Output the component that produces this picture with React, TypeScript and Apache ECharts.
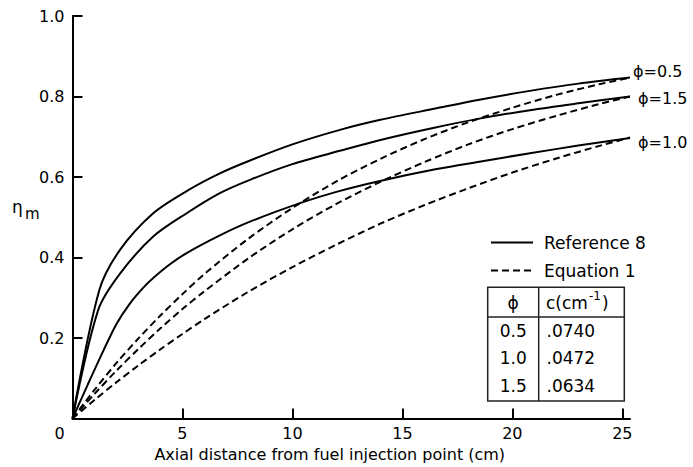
import React, { useEffect, useRef } from "react";
import * as echarts from "echarts";

// ---- data ----
const xTicks = [0, 5, 10, 15, 20, 25];
const yTicks = [0.2, 0.4, 0.6, 0.8, 1.0];

// Equation 1 (dashed)
const eqX = [0, 1, 2, 3, 4, 5, 6, 8, 10, 12, 14, 16, 18, 20, 22, 24, 25.35];
const eq05 = [0, 0.071, 0.138, 0.199, 0.256, 0.309, 0.359, 0.447, 0.523, 0.589, 0.645, 0.694, 0.736, 0.772, 0.804, 0.831, 0.847];
const eq10 = [0, 0.046, 0.09, 0.132, 0.172, 0.21, 0.247, 0.315, 0.376, 0.432, 0.484, 0.53, 0.572, 0.611, 0.646, 0.678, 0.698];
const eq15 = [0, 0.061, 0.119, 0.173, 0.224, 0.272, 0.316, 0.398, 0.47, 0.533, 0.588, 0.637, 0.681, 0.719, 0.752, 0.782, 0.8];

// Reference 8 (solid)
const ref05X = [0, 1.22, 2.16, 3.67, 5.19, 6.7, 8.07, 10, 12.16, 14, 16.5, 18.5, 20.8, 23, 25.35];
const ref05Y = [0, 0.319, 0.419, 0.51, 0.565, 0.609, 0.641, 0.681, 0.717, 0.742, 0.77, 0.792, 0.814, 0.832, 0.847];
const ref15X = [0, 1.17, 2.16, 3.67, 5.19, 6.7, 8.07, 10, 12.16, 14, 16.5, 18.5, 20.8, 23, 25.35];
const ref15Y = [0, 0.27, 0.36, 0.452, 0.51, 0.56, 0.593, 0.632, 0.665, 0.692, 0.723, 0.745, 0.766, 0.783, 0.8];
const ref10X = [0, 0.7, 1.4, 2.0, 2.6, 3.2, 3.67, 4.4, 5.19, 6.7, 8.07, 10.34, 12, 13.98, 16.5, 18.5, 20.8, 23, 25.35];
const ref10Y = [0, 0.085, 0.168, 0.235, 0.285, 0.324, 0.349, 0.382, 0.411, 0.455, 0.489, 0.535, 0.563, 0.59, 0.619, 0.638, 0.659, 0.678, 0.697];

const endLabels = ["\u03d5=0.5", "\u03d5=1.5", "\u03d5=1.0"];
const legendNames = ["Reference 8", "Equation 1"];

// table
const tableHeader = ["\u03d5", "c(cm", "-1", ")"];
const tablePhi = ["0.5", "1.0", "1.5"];
const tableC = [".0740", ".0472", ".0634"];

const FONT = "DejaVu Sans";
const INK = "#000";

const zip = (xs: number[], ys: number[]) => xs.map((x, i) => [x, ys[i]]);

export default function App() {
  const ref = useRef<HTMLDivElement>(null);
  useEffect(() => {
    if (!ref.current) return;
    const chart = echarts.init(ref.current, undefined, { renderer: "svg" });

    const solid = (name: string, data: number[][], label: string, offset: number[], distance: number) => ({
      type: "line",
      name,
      data,
      smooth: 0.3,
      symbol: "none",
      lineStyle: { color: INK, width: 2, type: "solid" },
      itemStyle: { color: INK },
      endLabel: {
        show: true,
        formatter: label,
        color: INK,
        fontFamily: FONT,
        fontSize: 16,
        distance,
        offset,
      },
      z: 3,
    });
    const dashed = (name: string, data: number[][]) => ({
      type: "line",
      name,
      data,
      smooth: 0.3,
      symbol: "none",
      lineStyle: { color: INK, width: 2, type: [7, 4] },
      itemStyle: { color: INK },
      z: 2,
    });

    const colL = 487.7, colM = 538.7, colR = 624.3;
    const rowT = 287.3, rowH = 317, rowB = 401;
    const phiCx = (colL + colM) / 2;
    const rowYs = [330.8, 357.5, 385.5];
    const txt = (text: string, x: number, y: number, align: string, size = 17) => ({
      type: "text",
      x,
      y,
      style: { text, fontFamily: FONT, fontSize: size, fill: INK, align, verticalAlign: "middle" },
    });

    const graphics: any[] = [
      {
        type: "rect",
        shape: { x: colL, y: rowT, width: colR - colL, height: rowB - rowT },
        style: { fill: "transparent", stroke: "#222", lineWidth: 1.5 },
      },
      { type: "line", shape: { x1: colL, y1: rowH, x2: colR, y2: rowH }, style: { stroke: "#222", lineWidth: 1.5 } },
      { type: "line", shape: { x1: colM, y1: rowT, x2: colM, y2: rowB }, style: { stroke: "#222", lineWidth: 1.5 } },
      txt(tableHeader[0], phiCx, 303, "center"),
      txt(tableHeader[1], 546, 303, "left"),
      txt(tableHeader[2], 589, 296, "left", 12),
      txt(tableHeader[3], 602, 303, "left"),
      ...tablePhi.map((p, i) => txt(p, phiCx, rowYs[i], "center")),
      ...tableC.map((c, i) => txt(c, 546.5, rowYs[i], "left")),
      // y axis name: eta with subscript m
      txt("\u03b7", 12, 207, "left", 17),
      txt("m", 25, 214, "left", 15),
    ];

    chart.setOption({
      animation: false,
      backgroundColor: "#fff",
      grid: { left: 72.5, right: 63, top: 16, bottom: 48.5, containLabel: false, outerBoundsMode: "none" },
      legend: {
        data: legendNames,
        orient: "vertical",
        left: 485,
        top: 229,
        itemWidth: 42,
        itemHeight: 14,
        itemGap: 11,
        selectedMode: false,
        itemStyle: { opacity: 0, color: "transparent", borderWidth: 0 },
        textStyle: { color: INK, fontFamily: FONT, fontSize: 17, padding: [0, 0, 0, 6] },
      },
      xAxis: {
        type: "value",
        min: 0,
        max: 25.35,
        interval: 5,
        name: "Axial distance from fuel injection point (cm)",
        nameLocation: "middle",
        nameGap: 24,
        nameTextStyle: { color: INK, fontFamily: FONT, fontSize: 16, padding: [0, 43, 0, 0] },
        axisLine: { show: true, lineStyle: { color: INK, width: 2 } },
        axisTick: {
          show: true,
          inside: true,
          length: 10,
          lineStyle: { color: INK, width: 2 },
          customValues: xTicks.filter((v) => v > 0),
        },
        axisLabel: {
          color: INK,
          fontFamily: FONT,
          fontSize: 16,
          margin: 7,
          customValues: xTicks,
          formatter: (v: number) => (v === 0 ? "{z|0}" : String(v)),
          rich: { z: { fontFamily: FONT, fontSize: 16, color: INK, padding: [0, 26, 0, 0] } },
        },
        splitLine: { show: false },
      },
      yAxis: {
        type: "value",
        min: 0,
        max: 1,
        interval: 0.2,
        axisLine: { show: true, lineStyle: { color: INK, width: 2 } },
        axisTick: {
          show: true,
          inside: true,
          length: 10,
          lineStyle: { color: INK, width: 2 },
          customValues: yTicks,
        },
        axisLabel: {
          color: INK,
          fontFamily: FONT,
          fontSize: 16,
          margin: 8,
          customValues: yTicks,
          formatter: (v: number) => v.toFixed(1),
        },
        splitLine: { show: false },
      },
      series: [
        solid(legendNames[0], zip(ref05X, ref05Y), endLabels[0], [0, -6], 3),
        solid(legendNames[0], zip(ref15X, ref15Y), endLabels[1], [5, 2], 3),
        solid(legendNames[0], zip(ref10X, ref10Y), endLabels[2], [5, 5], 3),
        dashed(legendNames[1], zip(eqX, eq05)),
        dashed(legendNames[1], zip(eqX, eq10)),
        dashed(legendNames[1], zip(eqX, eq15)),
      ],
      graphic: graphics,
    });
    return () => chart.dispose();
  }, []);
  return (
    <div
      ref={ref}
      style={{ position: "fixed", left: 0, top: 0, width: 693, height: 467, background: "#fff" }}
    />
  );
}
